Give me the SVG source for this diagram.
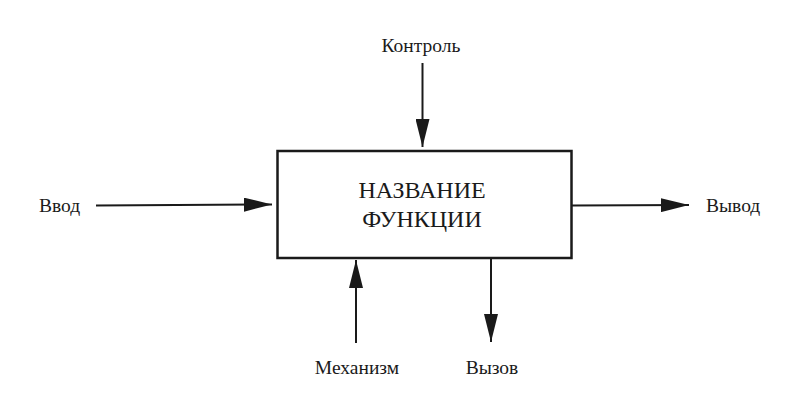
<svg xmlns="http://www.w3.org/2000/svg" width="800" height="416" viewBox="0 0 800 416">
<style>
text{font-family:"Liberation Serif","Times New Roman",serif;fill:#1a1a1a}
.lbl{font-size:19.5px}
.title{font-size:24px}
.ln{stroke:#1a1a1a;stroke-width:2;fill:none}
</style>
<defs>
<marker id="ah" viewBox="0 0 28 14" refX="28" refY="7" markerWidth="28" markerHeight="14" markerUnits="userSpaceOnUse" orient="auto">
<path d="M0,0 L28,7 L0,14 Z" fill="#1a1a1a"/>
</marker>
</defs>
<rect width="800" height="416" fill="#fff"/>
<g id="function">
<rect x="277.5" y="151" width="294" height="107" fill="#fff" stroke="#1a1a1a" stroke-width="2.5"/>
<text class="title" x="422" y="198" text-anchor="middle">НАЗВАНИЕ</text>
<text class="title" x="422" y="227" text-anchor="middle">ФУНКЦИИ</text>
</g>
<g id="control"><text class="lbl" x="421" y="52" text-anchor="middle">Контроль</text></g>
<g id="input"><text class="lbl" x="39" y="212">Ввод</text></g>
<g id="output"><text class="lbl" x="706" y="212">Вывод</text></g>
<g id="mechanism"><text class="lbl" x="357" y="374" text-anchor="middle">Механизм</text></g>
<g id="call"><text class="lbl" x="492" y="374" text-anchor="middle">Вызов</text></g>
<g id="connectors">
<line class="ln" x1="422.5" y1="63" x2="422.5" y2="147" marker-end="url(#ah)"/>
<line class="ln" x1="96" y1="205.5" x2="272" y2="204.5" marker-end="url(#ah)"/>
<line class="ln" x1="572" y1="205.5" x2="689" y2="205" marker-end="url(#ah)"/>
<line class="ln" x1="356" y1="343" x2="356" y2="260" marker-end="url(#ah)"/>
<line class="ln" x1="491" y1="258" x2="491" y2="342" marker-end="url(#ah)"/>
</g>
</svg>
